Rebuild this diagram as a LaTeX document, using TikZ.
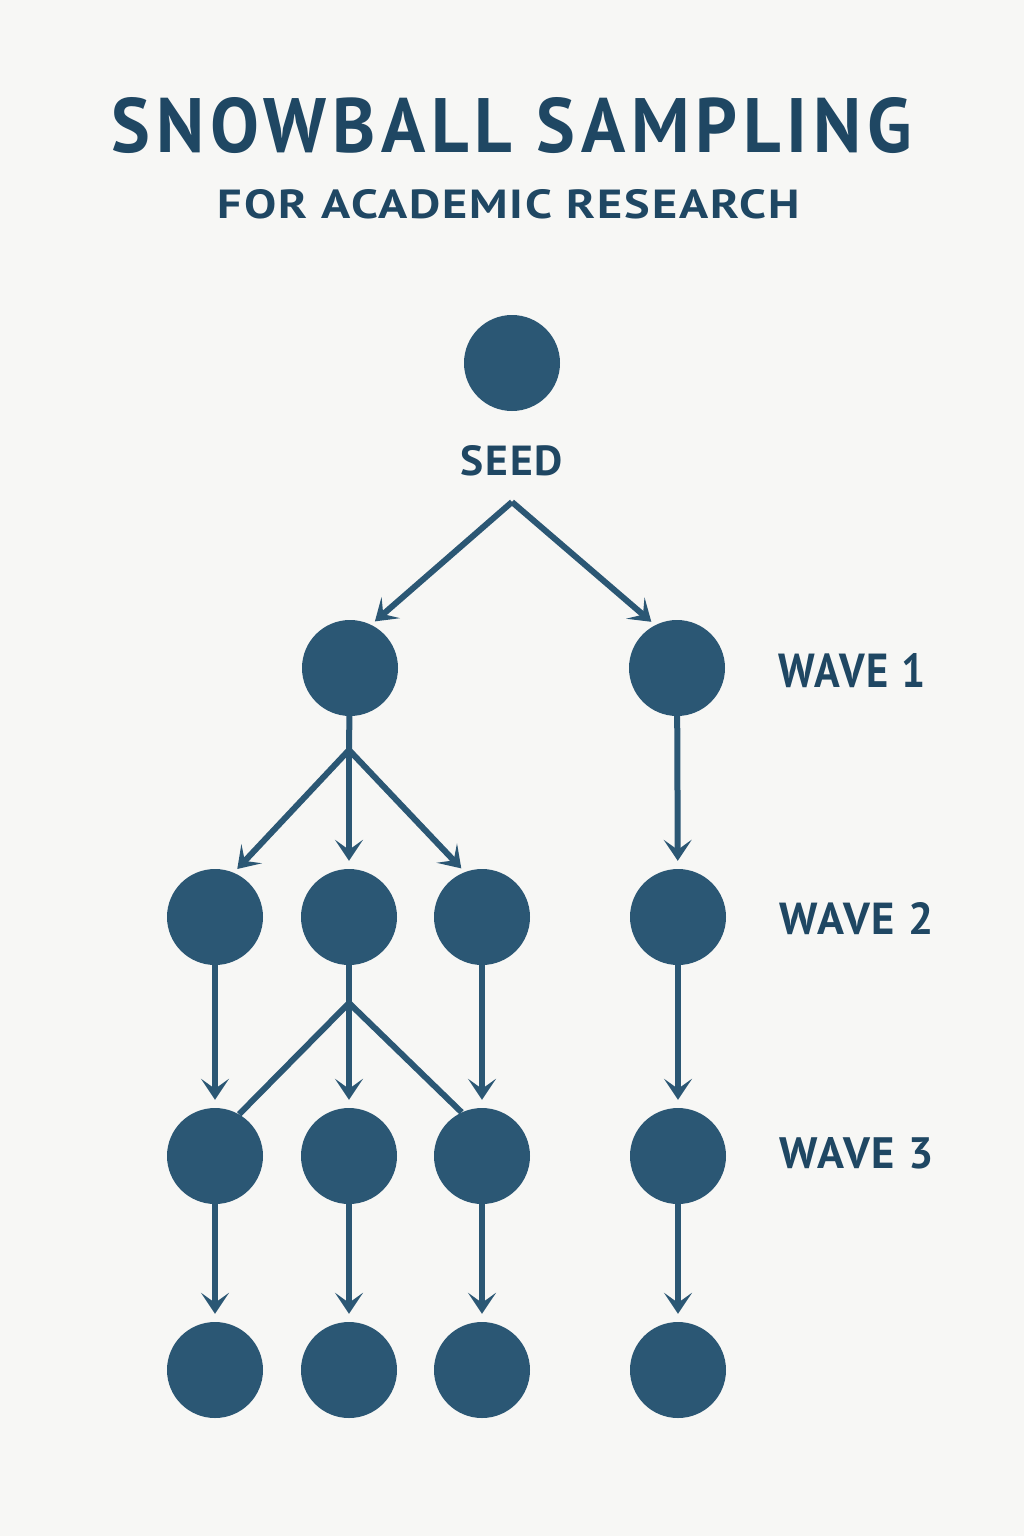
\documentclass[tikz,border=0pt]{standalone}
\usepackage{fontspec}
\setmainfont{PT Sans}
\newfontfamily\titlefont{PT Sans}[LetterSpace=8]
\newfontfamily\subfont{PT Sans}[LetterSpace=4]
\newfontfamily\lblfont{PT Sans}[LetterSpace=4]
\usetikzlibrary{arrows.meta}
\definecolor{bg}{HTML}{F7F7F5}
\definecolor{nodeblue}{HTML}{2B5774}
\definecolor{ink}{HTML}{1F4763}
\newcommand{\fitto}[3]{\resizebox{#1}{#2}{#3}}
\begin{document}
\begin{tikzpicture}[x=1pt,y=-1pt,
  person/.style={circle,fill=nodeblue,minimum size=96pt,inner sep=0pt},
  link/.style={draw=nodeblue,line width=6pt},
  arr/.style={link,-{Stealth[length=21pt,width=28pt,inset=10pt]},shorten >=8pt},
  diag/.style={link,-{Stealth[length=21pt,width=28pt,inset=10pt]},shorten >=5pt},
  txt/.style={inner sep=0pt,text=ink}]
\fill[bg] (0,0) rectangle (1024,1536);
\useasboundingbox (0,0) rectangle (1024,1536);

% titles
\node[txt,anchor=base] (title) at (512,152) {\fitto{800pt}{55pt}{\titlefont\bfseries SNOWBALL SAMPLING}};
\node[txt,anchor=base] (subtitle) at (509,218) {\fitto{582pt}{29pt}{\subfont\bfseries FOR ACADEMIC RESEARCH}};

% nodes
\node[person] (seed) at (512,363) {};
\node[txt,anchor=base] (seedlbl) at (512,475) {\fitto{102pt}{30pt}{\lblfont\bfseries SEED}};

\node[person] (w1a) at (350,668) {};
\node[person] (w1b) at (677,668) {};

\node[person] (w2a) at (215,917) {};
\node[person] (w2b) at (349,917) {};
\node[person] (w2c) at (482,917) {};
\node[person] (w2d) at (678,917) {};

\node[person] (w3a) at (215,1156) {};
\node[person] (w3b) at (349,1156) {};
\node[person] (w3c) at (482,1156) {};
\node[person] (w3d) at (678,1156) {};

\node[person] (w4a) at (215,1370) {};
\node[person] (w4b) at (349,1370) {};
\node[person] (w4c) at (482,1370) {};
\node[person] (w4d) at (678,1370) {};

% wave labels
\node[txt,anchor=base west] (wave1) at (778,687) {\fitto{147pt}{34pt}{\lblfont\bfseries WAVE 1}};
\node[txt,anchor=base west] (wave2) at (779,934) {\fitto{154pt}{32pt}{\lblfont\bfseries WAVE 2}};
\node[txt,anchor=base west] (wave3) at (779,1168) {\fitto{154pt}{31pt}{\lblfont\bfseries WAVE 3}};

% junctions
\coordinate (apex) at (512,502);
\coordinate (j1) at (349,750);
\coordinate (j2) at (349,1003);

% seed to wave 1
\draw[diag,line join=miter] (apex) -- (w1a.64);
\draw[diag,line join=miter] (apex) -- (w1b.117);

% wave 1 to wave 2
\draw[link] (w1a) -- (j1);
\draw[diag] (j1) -- (w2a.67);
\draw[arr] (j1) -- (w2b);
\draw[diag] (j1) -- (w2c.111);
\draw[arr] (w1b) -- (w2d);

% wave 2 to wave 3
\draw[arr] (w2a) -- (w3a);
\draw[link] (w2b) -- (j2);
\draw[link] (j2) -- (w3a.60);
\draw[arr] (j2) -- (w3b);
\draw[link] (j2) -- (w3c.115);
\draw[arr] (w2c) -- (w3c);
\draw[arr] (w2d) -- (w3d);

% wave 3 to wave 4
\draw[arr] (w3a) -- (w4a);
\draw[arr] (w3b) -- (w4b);
\draw[arr] (w3c) -- (w4c);
\draw[arr] (w3d) -- (w4d);
\end{tikzpicture}
\end{document}
